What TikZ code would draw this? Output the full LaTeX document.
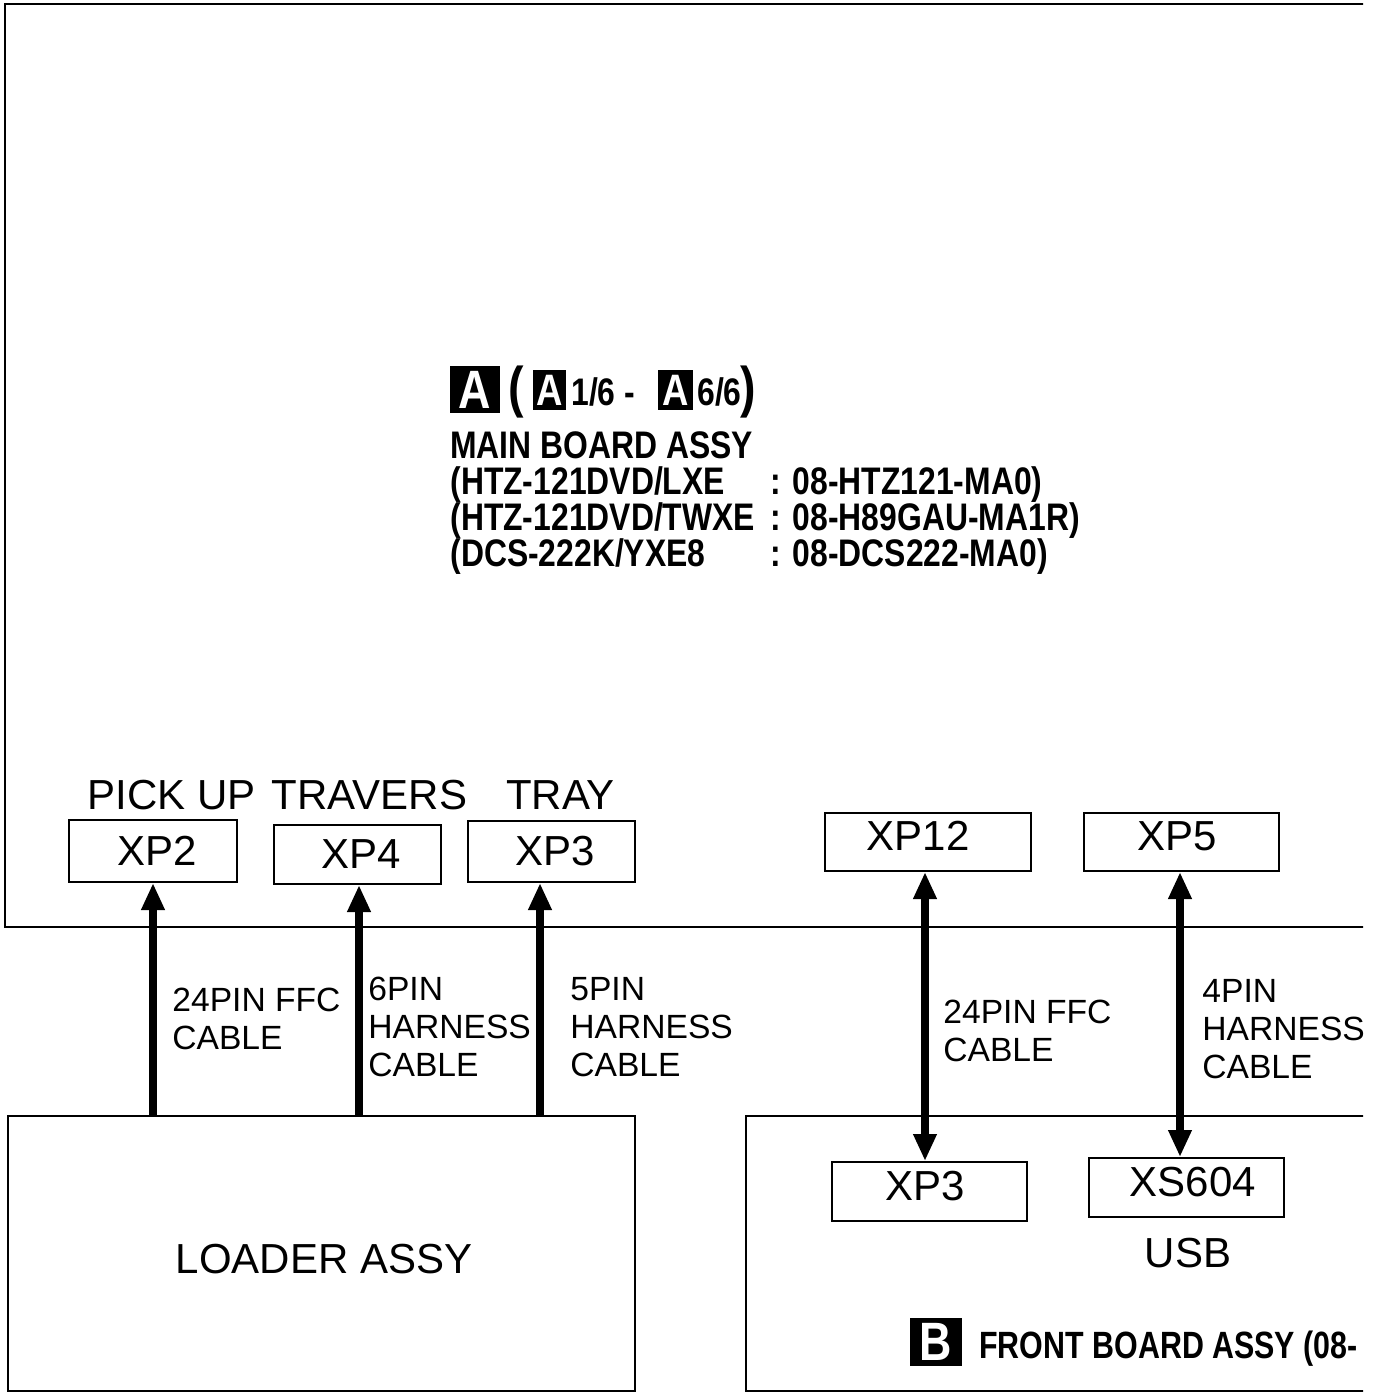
\documentclass[tikz,border=0pt]{standalone}
\usepackage{fontspec}
\setmainfont{Liberation Sans}
\newfontfamily\condb[FakeStretch=0.83]{Liberation Sans}
\newfontfamily\condc[FakeStretch=0.80]{Liberation Sans}
\usetikzlibrary{arrows.meta}
\tikzset{
  board/.style={line width=1.3pt},
  conbox/.style={draw, line width=1pt, inner sep=0pt},
  lbl/.style={font=\fontsize{21}{24}\selectfont, inner sep=0pt},
  cablbl/.style={font=\fontsize{16.8}{19}\selectfont, align=left, inner sep=0pt, anchor=north west},
  cable/.style={line width=4pt, -{Triangle[length=13.5pt,width=11pt]}},
  dcable/.style={line width=4pt, {Triangle[length=13.5pt,width=11pt]}-{Triangle[length=13.5pt,width=11pt]}},
  hd/.style={font=\condb\bfseries\fontsize{19.2}{18}\selectfont, inner sep=0pt, anchor=base west},
  fbhd/.style={hd, font=\condc\bfseries\fontsize{19}{18}\selectfont},
  paren/.style={font=\condb\bfseries\fontsize{28}{28}\selectfont, inner sep=0pt, anchor=base west},
  tag/.style={fill=black, text=white, inner sep=0pt, font=\condb\bfseries\fontsize{22}{22}\selectfont},
  bigtag/.style={tag, font=\condb\bfseries\fontsize{27}{27}\selectfont},
}
\begin{document}
\begin{tikzpicture}[x=0.5pt,y=-0.5pt]
\useasboundingbox (0,0) rectangle (1382,1393);
\begin{scope}
\clip (0,0) rectangle (1363,1393);
% main board outline (open on the right)
\draw[board] (1370,4) -- (5,4) -- (5,927) -- (1370,927);
% front board outline (open on the right)
\draw[board] (1370,1116) -- (746,1116) -- (746,1391) -- (1370,1391);

% title block
\node[bigtag, minimum width=25pt, minimum height=23.5pt] (tA) at (475,389.5) {A};
\node[paren] (lp) at (508,406) {(};
\node[tag, minimum width=16.5pt, minimum height=20pt] (tA1) at (549.5,390) {A};
\node[hd] (r1) at (571,405) {1/6 -};
\node[tag, minimum width=17.5pt, minimum height=20pt] (tA6) at (675.5,390) {A};
\node[hd] (r6) at (697,405) {6/6};
\node[paren] (rp) at (740,406) {)};
\node[hd] (mb) at (450,458) {MAIN BOARD ASSY};
\node[hd] (m1) at (450,494) {(HTZ-121DVD/LXE};
\node[hd] (m2) at (450,530) {(HTZ-121DVD/TWXE};
\node[hd] (m3) at (450,566) {(DCS-222K/YXE8};
\node[hd] (n1) at (770,494) {: 08-HTZ121-MA0)};
\node[hd] (n2) at (770,530) {: 08-H89GAU-MA1R)};
\node[hd] (n3) at (770,566) {: 08-DCS222-MA0)};

% connector captions
\node[lbl] (cpu) at (172,795) {PICK UP};
\node[lbl] (ctr) at (369.5,795) {TRAVERS};
\node[lbl] (cty) at (560.5,795) {TRAY};

% connector boxes on main board
\node[conbox, minimum width=84pt, minimum height=31pt] (xp2) at (153,851) {};
\node[lbl] (xp2t) at (157,851) {XP2};
\node[conbox, minimum width=83.5pt, minimum height=29.5pt] (xp4) at (357.5,854.5) {};
\node[lbl] (xp4t) at (361,854) {XP4};
\node[conbox, minimum width=83.5pt, minimum height=30.5pt] (xp3a) at (551.5,851.5) {};
\node[lbl] (xp3at) at (555,851) {XP3};
\node[conbox, minimum width=103pt, minimum height=29pt] (xp12) at (928,842) {};
\node[lbl] (xp12t) at (918,836) {XP12};
\node[conbox, minimum width=97.5pt, minimum height=29pt] (xp5) at (1181.5,842) {};
\node[lbl] (xp5t) at (1177,836) {XP5};

% loader assy
\node[draw, board, minimum width=313.5pt, minimum height=137.5pt, inner sep=0pt] (loader) at (321.5,1253.5) {};
\node[lbl] (loadert) at (324,1259) {LOADER ASSY};

% front board connectors
\node[conbox, minimum width=97.5pt, minimum height=29.5pt] (xp3b) at (929.5,1191.5) {};
\node[lbl] (xp3bt) at (925,1186) {XP3};
\node[conbox, minimum width=97.5pt, minimum height=29.5pt] (xs604) at (1186.5,1187.5) {};
\node[lbl] (xs604t) at (1193,1182) {XS604};
\node[lbl] (usb) at (1188,1253) {USB};
\node[bigtag, minimum width=26pt, minimum height=24pt] (tB) at (936,1342) {B};
\node[fbhd] (fb) at (979,1358) {FRONT BOARD ASSY (08-};

% cables
\coordinate (c1) at (153,0);
\coordinate (c2) at (359,0);
\coordinate (c3) at (540,0);
\coordinate (c4) at (925,0);
\coordinate (c5) at (1180,0);
\draw[cable] (c1 |- loader.north) -- (c1 |- xp2.south);
\draw[cable] (c2 |- loader.north) -- (c2 |- xp4.south);
\draw[cable] (c3 |- loader.north) -- (c3 |- xp3a.south);
\draw[dcable] (c4 |- xp12.south) -- (c4 |- xp3b.north);
\draw[dcable] (c5 |- xp5.south) -- (c5 |- xs604.north);

\node[cablbl] (l1) at (172,988) {24PIN FFC\\CABLE};
\node[cablbl] (l2) at (368,977) {6PIN\\HARNESS\\CABLE};
\node[cablbl] (l3) at (570,977) {5PIN\\HARNESS\\CABLE};
\node[cablbl] (l4) at (943,1000) {24PIN FFC\\CABLE};
\node[cablbl] (l5) at (1202,979) {4PIN\\HARNESS\\CABLE};
\end{scope}
\end{tikzpicture}
\end{document}
